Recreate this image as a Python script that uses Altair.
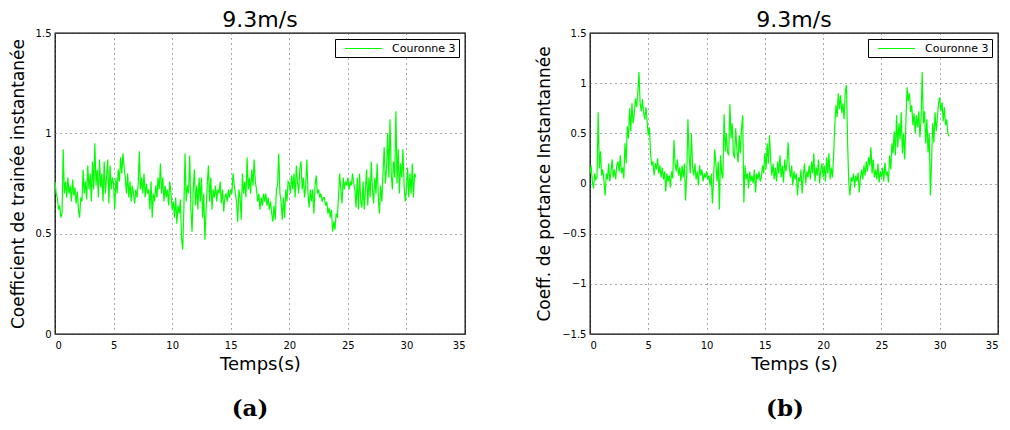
import altair as alt
import pandas as pd

# ---- data (0.1 s sampling) ----
drag = [
    0.76, 0.70, 0.68, 0.62, 0.64, 0.58, 0.60, 0.92, 0.70, 0.76,
    0.68, 0.78, 0.70, 0.74, 0.66, 0.77, 0.69, 0.73, 0.65, 0.71,
    0.62, 0.58, 0.68, 0.66, 0.82, 0.70, 0.76, 0.67, 0.84, 0.72,
    0.80, 0.66, 0.86, 0.72, 0.95, 0.74, 0.82, 0.68, 0.87, 0.73,
    0.80, 0.66, 0.86, 0.70, 0.78, 0.87, 0.65, 0.84, 0.72, 0.78,
    0.75, 0.62, 0.78, 0.70, 0.82, 0.76, 0.88, 0.80, 0.90, 0.83,
    0.78, 0.70, 0.80, 0.68, 0.76, 0.66, 0.74, 0.70, 0.65, 0.72,
    0.68, 0.74, 0.91, 0.72, 0.78, 0.70, 0.80, 0.68, 0.75, 0.70,
    0.72, 0.62, 0.76, 0.58, 0.70, 0.66, 0.74, 0.68, 0.78, 0.72,
    0.85, 0.70, 0.78, 0.66, 0.74, 0.68, 0.72, 0.64, 0.76, 0.70,
    0.62, 0.66, 0.58, 0.68, 0.55, 0.64, 0.60, 0.67, 0.48, 0.42,
    0.62, 0.90, 0.66, 0.74, 0.70, 0.89, 0.62, 0.51, 0.72, 0.82,
    0.64, 0.74, 0.62, 0.78, 0.66, 0.78, 0.58, 0.70, 0.47, 0.62,
    0.75, 0.84, 0.66, 0.78, 0.62, 0.72, 0.68, 0.74, 0.66, 0.72,
    0.70, 0.76, 0.65, 0.72, 0.61, 0.68, 0.70, 0.66, 0.72, 0.68,
    0.72, 0.70, 0.80, 0.74, 0.70, 0.66, 0.56, 0.72, 0.68, 0.57,
    0.80, 0.70, 0.76, 0.68, 0.88, 0.72, 0.78, 0.70, 0.82, 0.74,
    0.87, 0.76, 0.72, 0.66, 0.70, 0.62, 0.68, 0.64, 0.70, 0.66,
    0.70, 0.64, 0.68, 0.62, 0.66, 0.60, 0.56, 0.64, 0.57, 0.72,
    0.74, 0.90, 0.70, 0.66, 0.57, 0.68, 0.58, 0.72, 0.66, 0.76,
    0.75, 0.70, 0.79, 0.72, 0.80, 0.68, 0.84, 0.76, 0.70, 0.82,
    0.86, 0.72, 0.78, 0.68, 0.74, 0.87, 0.70, 0.63, 0.72, 0.66,
    0.72, 0.60, 0.74, 0.79, 0.70, 0.72, 0.68, 0.70, 0.66, 0.68,
    0.68, 0.64, 0.66, 0.60, 0.63, 0.58, 0.62, 0.51, 0.56, 0.52,
    0.60, 0.58, 0.68, 0.80, 0.72, 0.65, 0.78, 0.72, 0.76, 0.74,
    0.78, 0.72, 0.76, 0.74, 0.80, 0.75, 0.72, 0.63, 0.78, 0.62,
    0.80, 0.66, 0.63, 0.76, 0.62, 0.72, 0.82, 0.64, 0.78, 0.68,
    0.86, 0.72, 0.65, 0.78, 0.70, 0.85, 0.68, 0.60, 0.74, 0.66,
    0.80, 0.93, 0.75, 0.82, 1.00, 0.78, 1.07, 0.80, 0.72, 0.86,
    0.78, 1.11, 0.75, 0.92, 0.70, 0.85, 0.78, 0.92, 0.74, 0.66,
    0.72, 0.83, 0.68, 0.80, 0.70, 0.85, 0.68, 0.80, 0.78,
]

lift = [
    0.10, 0.18, 0.02, -0.05, 0.10, 0.04, 0.06, 0.71, 0.15, 0.32,
    0.08, 0.14, 0.02, -0.12, 0.10, 0.04, 0.20, 0.02, 0.12, 0.24,
    0.06, 0.14, 0.04, 0.18, 0.22, 0.12, 0.28, 0.10, 0.16, 0.05,
    0.40, 0.20, 0.57, 0.45, 0.75, 0.52, 0.80, 0.60, 0.70, 0.85,
    0.76, 0.90, 1.11, 0.80, 0.72, 0.84, 0.70, 0.64, 0.76, 0.62,
    0.48, 0.56, 0.28, 0.18, 0.22, 0.08, 0.20, 0.14, 0.25, 0.10,
    0.18, 0.06, 0.16, 0.04, 0.12, -0.08, 0.10, 0.02, 0.08, -0.04,
    0.12, 0.05, 0.43, 0.20, 0.12, 0.24, 0.08, 0.16, 0.02, 0.18,
    0.06, 0.20, -0.17, 0.10, 0.64, 0.28, 0.10, 0.50, 0.16, 0.08,
    0.20, 0.04, 0.12, -0.02, 0.18, 0.08, 0.14, 0.02, 0.10, 0.06,
    0.12, 0.04, 0.08, -0.02, 0.10, -0.20, 0.05, 0.34, 0.20, 0.02,
    0.22, -0.26, 0.28, 0.10, 0.05, 0.69, 0.32, 0.50, 0.31, 0.28,
    0.79, 0.45, 0.60, 0.30, 0.25, 0.55, 0.34, 0.21, 0.48, 0.30,
    0.55, 0.68, -0.19, 0.18, 0.04, 0.10, -0.05, 0.12, 0.02, 0.08,
    0.00, 0.14, -0.09, 0.10, 0.04, 0.12, 0.02, 0.06, 0.18, 0.10,
    0.30, 0.14, 0.40, 0.20, 0.48, 0.24, 0.08, 0.20, 0.04, 0.16,
    0.02, 0.22, 0.10, 0.28, 0.06, 0.18, 0.01, 0.24, 0.12, 0.20,
    0.41, 0.16, 0.06, 0.18, -0.02, 0.12, 0.04, 0.10, -0.12, 0.06,
    0.02, 0.14, -0.10, 0.08, 0.20, 0.00, 0.12, 0.06, 0.18, 0.04,
    0.22, 0.10, 0.30, 0.02, 0.16, 0.08, 0.24, 0.00, 0.14, 0.20,
    0.06, 0.18, 0.02, 0.26, 0.10, 0.30, 0.04, 0.16, 0.06, 0.28,
    0.58, 0.78, 0.66, 0.90, 0.74, 0.88, 0.70, 0.80, 0.64, 0.92,
    0.98, 0.40, 0.01, -0.12, 0.06, 0.02, 0.10, -0.04, 0.08, 0.02,
    0.11, -0.09, 0.06, 0.14, 0.04, 0.18, 0.08, 0.22, 0.12, 0.26,
    0.18, 0.36, 0.10, 0.24, 0.06, 0.14, 0.04, 0.20, 0.01, 0.12,
    0.06, 0.16, 0.02, 0.21, 0.08, 0.12, 0.01, 0.28, 0.14, 0.40,
    0.30, 0.52, 0.28, 0.68, 0.36, 0.60, 0.44, 0.71, 0.30, 0.50,
    0.24, 0.62, 0.96, 0.82, 0.90, 0.71, 0.78, 0.58, 0.70, 0.50,
    0.68, 0.56, 0.72, 0.46, 0.64, 1.11, 0.60, 0.72, 0.40, 0.64,
    0.31, 0.50, -0.12, 0.22, 0.60, 0.41, 0.71, 0.52, 0.66, 0.80,
    0.86, 0.72, 0.81, 0.62, 0.76, 0.58, 0.64, 0.50, 0.47,
]

time_step = 0.1
times = [round(i * time_step, 1) for i in range(len(drag))]

x_ticks = [0, 5, 10, 15, 20, 25, 30, 35]
ya_ticks = [0, 0.5, 1, 1.5]
yb_ticks = [-1.5, -1, -0.5, 0, 0.5, 1, 1.5]
series_name = "Couronne 3"
panel_title = "9.3m/s"
captions = ["(a)", "(b)"]

FONT = "DejaVu Sans"
H = 301


def panel(values, ydom, yticks, ytitle, xtitle, caption, width):
    df = pd.DataFrame({"t": times, "v": values, "s": series_name})
    line = alt.Chart(df).mark_line(strokeWidth=1.2, clip=True).encode(
        x=alt.X("t:Q",
                scale=alt.Scale(domain=[0, 35], nice=False, zero=False),
                axis=alt.Axis(values=x_ticks, title=xtitle, format="~g")),
        y=alt.Y("v:Q",
                scale=alt.Scale(domain=ydom, nice=False, zero=False),
                axis=alt.Axis(values=yticks, title=ytitle, format="~g")),
        color=alt.Color("s:N", scale=alt.Scale(range=["#00ff00"]),
                        legend=alt.Legend(title=None, orient="top-right",
                                          offset=6, strokeColor="black",
                                          fillColor="white", padding=3,
                                          symbolType="M-3.08,0H3.08",
                                          symbolStrokeWidth=1,
                                          symbolSize=144,
                                          symbolOffset=19,
                                          labelFont=FONT, labelFontSize=11,
                                          labelColor="black", labelOffset=22)),
    )
    cap = alt.Chart(pd.DataFrame({"c": [caption]})).mark_text(
        font="DejaVu Serif", fontWeight="bold", fontSize=23,
        baseline="middle", align="center", color="black"
    ).encode(x=alt.value(195), y=alt.value(376), text="c:N")
    return alt.layer(line, cap).properties(
        width=width, height=H,
        title=alt.TitleParams(panel_title, font=FONT, fontSize=22,
                              fontWeight="normal", color="black",
                              anchor="middle", offset=-4),
    )


pa = panel(drag, [0, 1.5], ya_ticks, "Coefficient de trainée instantanée",
           "Temps(s)", captions[0], 410)
pb = panel(lift, [-1.5, 1.5], yb_ticks, "Coeff. de portance Instantannée",
           "Temps (s)", captions[1], 408)

chart = alt.hconcat(pa, pb, spacing=69).resolve_scale(
    x="independent", y="independent", color="independent"
).resolve_legend(color="independent").properties(
    padding=0, background="white"
).configure_view(
    stroke="black", strokeWidth=1.3
).configure_axis(
    labelFont=FONT, labelFontSize=10, labelColor="black", labelPadding=4,
    titleFont=FONT, titleFontSize=18, titleFontWeight="normal",
    titleColor="black", ticks=False, domain=False,
    grid=True, gridColor="#555555", gridDash=[1, 4], gridWidth=1,
).configure_axisY(titleFontSize=17, titlePadding=8).configure_axisX(
    labelPadding=6, titlePadding=5
)

chart.save("out.html", embed_options={"renderer": "svg", "actions": False})
